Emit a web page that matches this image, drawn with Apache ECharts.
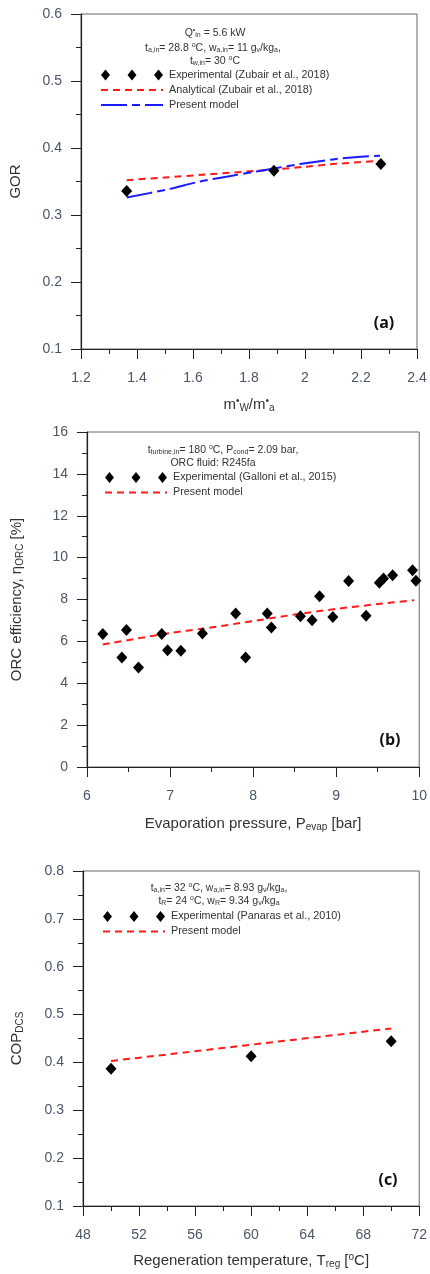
<!DOCTYPE html>
<html>
<head>
<meta charset="utf-8">
<script src="https://cdn.jsdelivr.net/npm/echarts@6/dist/echarts.min.js"></script>
<style>
html,body{margin:0;padding:0;background:#fff;}
#chart{width:430px;height:1274px;}
</style>
</head>
<body>
<div id="chart"></div>
<script>
// ---------- Panel (a) : GOR vs mass-flow ratio ----------
const aExpX = [1.363, 1.889, 2.271];
const aExpY = [0.336, 0.366, 0.376];
const aAnaX = [1.363, 1.5, 1.63, 1.83, 2.0, 2.1, 2.27];
const aAnaY = [0.352, 0.356, 0.360, 0.366, 0.372, 0.376, 0.381];
const aModX = [1.363, 1.506, 1.625, 1.73, 1.827, 1.982, 2.10, 2.20, 2.268];
const aModY = [0.326, 0.338, 0.350, 0.358, 0.365, 0.376, 0.383, 0.387, 0.3885];

// ---------- Panel (b) : ORC efficiency vs evaporation pressure ----------
const bExpX = [6.19, 6.42, 6.475, 6.62, 6.90, 6.97, 7.13, 7.39, 7.79, 7.91, 8.17, 8.22, 8.57, 8.71, 8.80, 8.96, 9.15, 9.36, 9.52, 9.57, 9.68, 9.92, 9.96];
const bExpY = [6.35, 5.23, 6.54, 4.75, 6.35, 5.58, 5.55, 6.38, 7.33, 5.23, 7.33, 6.66, 7.20, 7.01, 8.16, 7.17, 8.88, 7.22, 8.80, 9.00, 9.16, 9.40, 8.89];
const bModX = [6.19, 7.0, 7.4, 8.0, 8.5, 9.0, 9.5, 9.94];
const bModY = [5.85, 6.40, 6.61, 6.97, 7.28, 7.55, 7.78, 7.97];

// ---------- Panel (c) : COP vs regeneration temperature ----------
const cExpX = [50, 60, 70];
const cExpY = [0.387, 0.413, 0.444];
const cModX = [50, 70];
const cModY = [0.403, 0.471];

// ---------- tick settings ----------
const aXTicks = {min: 1.2, max: 2.4, interval: 0.2};
const aYTicks = {min: 0.1, max: 0.6, interval: 0.1};
const bXTicks = {min: 6, max: 10, interval: 1};
const bYTicks = {min: 0, max: 16, interval: 2};
const cXTicks = {min: 48, max: 72, interval: 4};
const cYTicks = {min: 0.1, max: 0.8, interval: 0.1};

const zip = (xs, ys) => xs.map((x, i) => [x, ys[i]]);

const FONT = '"Liberation Sans", Arial, sans-serif';
const TICKCOL = '#4b5566';
const TEXTCOL = '#333';
const AXISCOL = '#222';

const richSub = (fs) => ({
  sub: {fontSize: fs, fontFamily: FONT, color: TEXTCOL, padding: [Math.round(fs*0.7), 0, 0, 0]},
  sup: {fontSize: fs, fontFamily: FONT, color: TEXTCOL, padding: [0, 0, Math.round(fs*0.8), 0]}
});

function xAxisCfg(gi, t, name, nameGap) {
  return {
    type: 'value', gridIndex: gi, min: t.min, max: t.max, interval: t.interval,
    name: name, nameLocation: 'middle', nameGap: nameGap,
    nameTextStyle: {fontFamily: FONT, fontSize: 15, color: TEXTCOL, rich: richSub(10)},
    axisLine: {show: true, onZero: false, lineStyle: {color: AXISCOL, width: 1.2}},
    axisTick: {show: true, inside: false, length: 10, lineStyle: {color: AXISCOL}},
    minorTick: {show: true, splitNumber: 2, length: 5, lineStyle: {color: AXISCOL}},
    axisLabel: {margin: 22, fontFamily: FONT, fontSize: 14, color: TICKCOL},
    splitLine: {show: false}, minorSplitLine: {show: false}
  };
}
function yAxisCfg(gi, t, name, nameGap) {
  return {
    type: 'value', gridIndex: gi, min: t.min, max: t.max, interval: t.interval,
    name: name, nameLocation: 'middle', nameGap: nameGap,
    nameTextStyle: {fontFamily: FONT, fontSize: 15, color: TEXTCOL, rich: richSub(10)},
    axisLine: {show: true, onZero: false, lineStyle: {color: AXISCOL, width: 1.2}},
    axisTick: {show: true, inside: false, length: 10, lineStyle: {color: AXISCOL}},
    minorTick: {show: true, splitNumber: 2, length: 5, lineStyle: {color: AXISCOL}},
    axisLabel: {margin: 19, fontFamily: FONT, fontSize: 14, color: TICKCOL},
    splitLine: {show: false}, minorSplitLine: {show: false}
  };
}

const DIAMONDS = 'path://M0,5.5L4.5,0L9,5.5L4.5,11Z M26.5,5.5L31,0L35.5,5.5L31,11Z M53,5.5L57.5,0L62,5.5L57.5,11Z';

function legendCfg(left, top, names) {
  return {
    orient: 'vertical', left: left, top: top, padding: 0,
    itemWidth: 62, itemHeight: 11, itemGap: 4,
    selectedMode: false,
    formatter: (n) => n.replace(/ \[[abc]\]$/, ''),
    textStyle: {fontFamily: FONT, fontSize: 10.8, color: TEXTCOL, lineHeight: 11, padding: [0, 0, 0, 1]},
    data: names.map((n, i) => i === 0
      ? {name: n, icon: DIAMONDS, itemStyle: {color: '#000', opacity: 1}}
      : {name: n, itemStyle: {color: 'rgba(0,0,0,0)', borderWidth: 0, opacity: 0}})
  };
}

function note(x, y, text) {
  return {
    type: 'text', x: x, y: y,
    style: {
      text: text, fontFamily: FONT, fontSize: 10.5, fill: TEXTCOL,
      textAlign: 'center', textVerticalAlign: 'middle',
      rich: {
        sub: {fontSize: 7, fontFamily: FONT, fill: TEXTCOL, padding: [5, 0, 0, 0]},
        sup: {fontSize: 7, fontFamily: FONT, fill: TEXTCOL, padding: [0, 0, 5, 0]}
      }
    }
  };
}
function panelLabel(x, y, t) {
  return {type: 'text', x: x, y: y, style: {text: t, fontFamily: '"Open Sans", "Liberation Sans", sans-serif', fontWeight: 'bold', fontSize: 16, fill: '#111', textAlign: 'center', textVerticalAlign: 'middle'}};
}

const scatterStyle = {symbol: 'diamond', symbolSize: [11, 12], itemStyle: {color: '#000', opacity: 1}};

const option = {
  animation: false,
  backgroundColor: '#fff',
  grid: [
    {left: 81, top: 14, width: 336, height: 335, show: true, borderColor: '#666', borderWidth: 1},
    {left: 87, top: 432, width: 336, height: 335, show: true, borderColor: '#666', borderWidth: 1},
    {left: 83, top: 871, width: 337, height: 335, show: true, borderColor: '#666', borderWidth: 1}
  ],
  xAxis: [
    xAxisCfg(0, aXTicks, 'm{sup|•}{sub|W}/m{sup|•}{sub|a}', 47),
    xAxisCfg(1, bXTicks, 'Evaporation pressure, P{sub|evap} [bar]', 48),
    xAxisCfg(2, cXTicks, 'Regeneration temperature, T{sub|reg} [{sup|o}C]', 46)
  ],
  yAxis: [
    yAxisCfg(0, aYTicks, 'GOR', 58),
    yAxisCfg(1, bYTicks, 'ORC efficiency, η{sub|ORC} [%]', 62),
    yAxisCfg(2, cYTicks, 'COP{sub|DCS}', 58)
  ],
  legend: [
    legendCfg(100, 69.5, ['Experimental (Zubair et al., 2018)', 'Analytical (Zubair et al., 2018)', 'Present model [a]']),
    legendCfg(104, 472, ['Experimental (Galloni et al., 2015)', 'Present model [b]']),
    legendCfg(102, 911, ['Experimental (Panaras et al., 2010)', 'Present model [c]'])
  ],
  graphic: [
    note(215, 33, 'Q{sup|•}{sub|in} = 5.6 kW'),
    note(213, 48, 't{sub|a,in}= 28.8 {sup|o}C, w{sub|a,in}= 11 g{sub|v}/kg{sub|a},'),
    note(215, 61, 't{sub|w,in}= 30 {sup|o}C'),
    note(223, 450, 't{sub|turbine,in}= 180 {sup|o}C, P{sub|cond}= 2.09 bar,'),
    note(213, 463, 'ORC fluid: R245fa'),
    note(219, 888, 't{sub|a,in}= 32 {sup|o}C, w{sub|a,in}= 8.93 g{sub|v}/kg{sub|a},'),
    note(219, 901, 't{sub|R}= 24 {sup|o}C, w{sub|R}= 9.34 g{sub|v}/kg{sub|a}'),
    panelLabel(384, 323, '(a)'),
    panelLabel(390, 740, '(b)'),
    panelLabel(388, 1180, '(c)')
  ],
  series: [
    Object.assign({type: 'scatter', name: 'Experimental (Zubair et al., 2018)', xAxisIndex: 0, yAxisIndex: 0, data: zip(aExpX, aExpY), z: 5}, scatterStyle),
    {type: 'line', name: 'Analytical (Zubair et al., 2018)', xAxisIndex: 0, yAxisIndex: 0, data: zip(aAnaX, aAnaY), smooth: 0.3, symbol: 'none', lineStyle: {color: '#ff1a1a', width: 2, type: [7, 5]}, itemStyle: {color: '#ff1a1a'}},
    {type: 'line', name: 'Present model [a]', xAxisIndex: 0, yAxisIndex: 0, data: zip(aModX, aModY), smooth: 0.3, symbol: 'none', lineStyle: {color: '#1a1aff', width: 2, type: [26, 5, 8, 5]}, itemStyle: {color: '#1a1aff'}},
    Object.assign({type: 'scatter', name: 'Experimental (Galloni et al., 2015)', xAxisIndex: 1, yAxisIndex: 1, data: zip(bExpX, bExpY), z: 5}, scatterStyle),
    {type: 'line', name: 'Present model [b]', xAxisIndex: 1, yAxisIndex: 1, data: zip(bModX, bModY), smooth: 0.3, symbol: 'none', lineStyle: {color: '#ff1a1a', width: 2, type: [7, 5]}, itemStyle: {color: '#ff1a1a'}},
    Object.assign({type: 'scatter', name: 'Experimental (Panaras et al., 2010)', xAxisIndex: 2, yAxisIndex: 2, data: zip(cExpX, cExpY), z: 5}, scatterStyle),
    {type: 'line', name: 'Present model [c]', xAxisIndex: 2, yAxisIndex: 2, data: zip(cModX, cModY), symbol: 'none', lineStyle: {color: '#ff1a1a', width: 2, type: [7, 5]}, itemStyle: {color: '#ff1a1a'}}
  ]
};

const chart = echarts.init(document.getElementById('chart'), null, {renderer: 'canvas'});
chart.setOption(option);
</script>
</body>
</html>
